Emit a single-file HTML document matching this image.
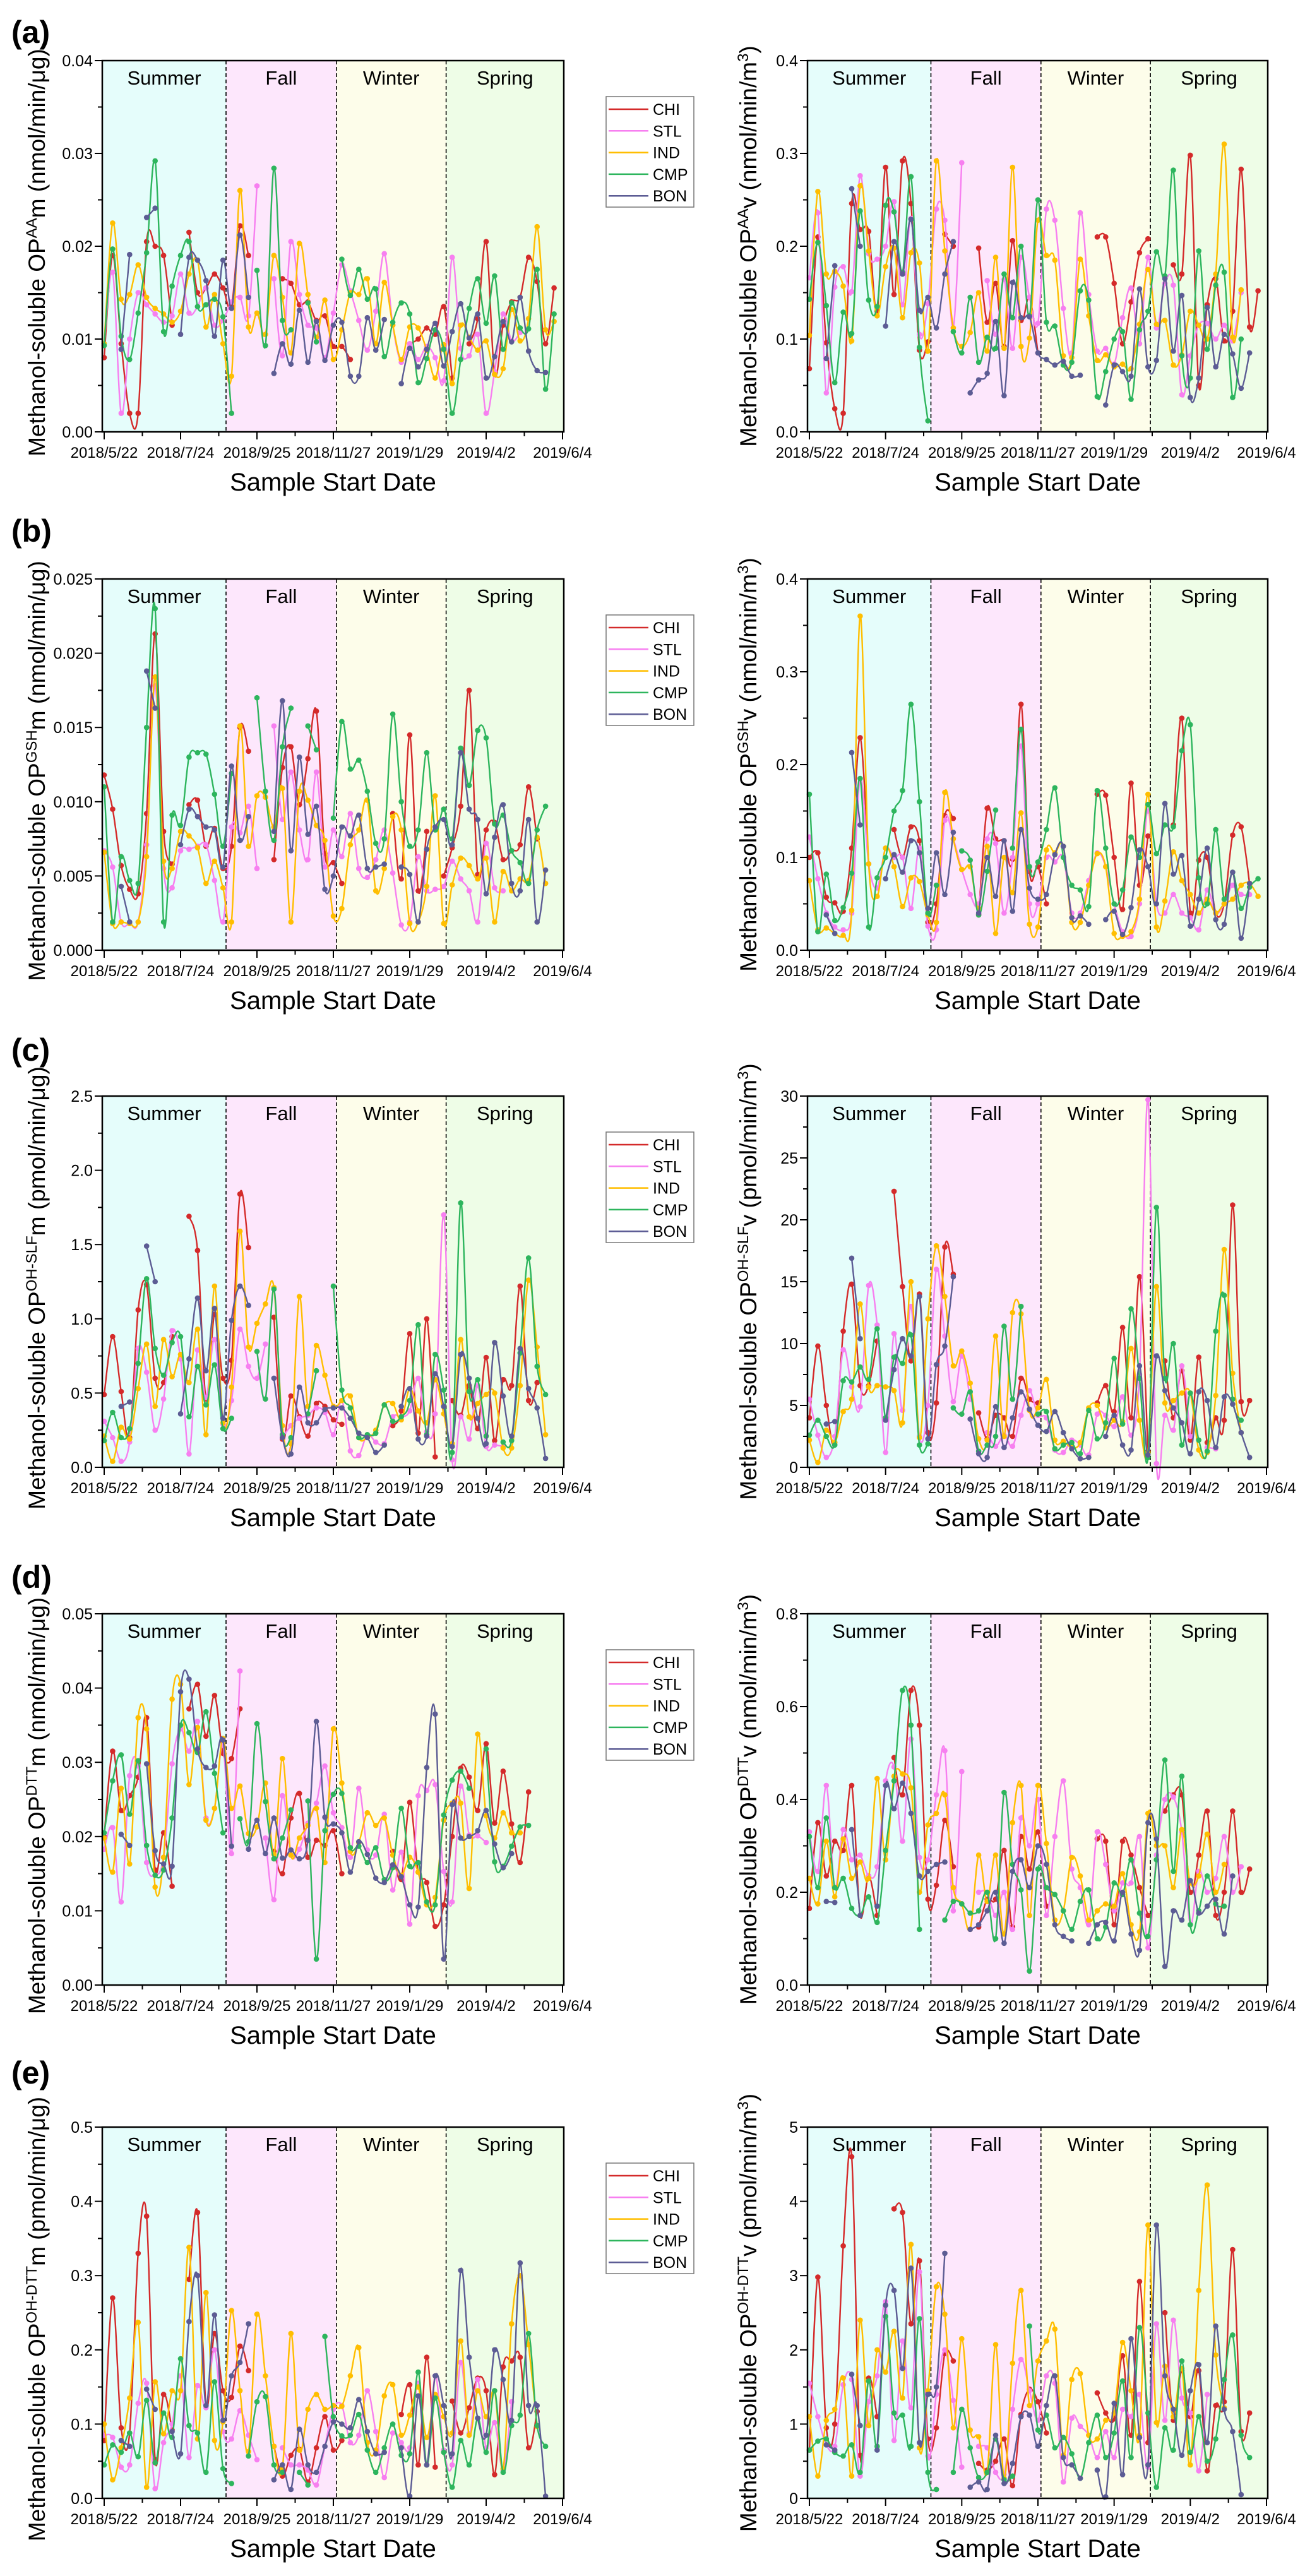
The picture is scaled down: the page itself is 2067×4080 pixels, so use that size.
<!DOCTYPE html>
<html><head><meta charset="utf-8">
<style>
html,body{margin:0;padding:0;background:#fff;}
svg{display:block;font-family:"Liberation Sans",sans-serif;}
</style></head>
<body>
<svg id="fig" width="2067" height="4080" viewBox="0 0 2067 4080" xmlns="http://www.w3.org/2000/svg"></svg>
<script>
// ---------- data ----------
const sites = ["CHI","STL","IND","CMP","BON"];
const tickLabels = ["2018/5/22","2018/7/24","2018/9/25","2018/11/27","2019/1/29","2019/4/2","2019/6/4"];
const tickDays = [0,63,126,189,252,315,378];
const seasonNames = ["Summer","Fall","Winter","Spring"];
const seasonBounds = [0,100.5,191.5,282,378];
const sampleStepDays = 7;
const n = null;

const aL_CHI=[.008,.019,.0095,.002,.002,.0205,.020,.019,.0115,n,.0215,.015,.0155,.017,.0155,.0135,.0222,.019,n,n,n,.0165,.016,.0137,.014,.012,.0125,.0092,.0092,.0078,n,n,n,n,n,n,.0095,.0100,.0112,.0105,.0135,.0058,n,.0095,.0122,.0205,.0062,.0115,.0140,.0145,.0188,.0162,.0095,.0155];
const aL_STL=[.0095,.0172,.002,.010,.015,.0137,.0127,.0118,.0125,.017,.0128,.0135,.0155,.0115,.012,.014,.0145,.0125,.0265,n,.0165,.0082,.0205,.0148,.0115,.0112,.008,.0128,.018,.0152,.012,.0088,.013,.0192,.0115,.0075,.0095,.0078,.0092,.008,.0055,.0188,.0090,.0082,.0105,.002,.0065,.0127,.0098,.0107,n,n,n,n];
const aL_IND=[.0095,.0225,.0143,.0148,.018,.0145,.0133,.0127,.0118,.013,.017,.0185,.0113,.0148,.0095,.006,.026,.0113,.0128,.0105,.019,.0145,.0085,.0203,.0148,.0102,.0142,.0078,.011,.015,.0148,.0165,.0095,.0161,.0115,.0078,.0113,.0112,.0088,.0058,.0094,.0052,.0115,.0102,.0088,.0098,.0062,.0068,.0132,.0098,.0122,.0221,.011,.0119];
const aL_CMP=[.0093,.0197,.0103,.0078,.0128,.0193,.0292,.0108,.0157,.019,.0205,.0135,.0137,.0143,.0124,.002,n,n,.0174,.0093,.0284,.0120,.011,n,.0139,.0097,n,n,.0186,.0147,.0175,.0143,.0154,.0081,.0118,.0139,.0127,.0053,.0079,.011,.0089,.002,.0078,.0133,.0165,.0117,.0168,.0089,.0139,.0112,.0111,.0175,.0046,.0127];
const aL_BON=[n,n,.0089,.0191,n,.0231,.0241,n,n,.0105,.0188,.0185,.0163,.0103,.0185,.0133,.0212,.0145,n,n,.0063,.0095,.0073,.0131,.0075,.0119,.0077,.0115,.0118,.006,.006,.0123,.0088,.0121,n,.0052,.009,.007,.0089,.0117,.0071,.0108,.0138,.0101,.0127,.0058,.0081,.0119,.0097,.0145,.0087,.0066,.0064,n];

const aR_CHI=[.068,.21,.096,.025,.02,.246,.218,.216,.13,.285,.148,.292,.246,.088,.097,n,.213,.20,n,n,.198,.118,.16,.092,.206,.12,.145,.085,n,n,n,n,n,n,.21,.21,.16,.095,.14,.193,.208,n,n,.18,.17,.298,.05,.137,.165,.098,.13,.283,.113,.152];
const aR_STL=[.166,.236,.042,.156,.178,.151,.276,.192,.186,.2,.248,.137,.23,.105,.138,.24,.228,.112,.29,n,n,.163,.105,.164,.09,.188,.145,.117,.24,.228,.133,.085,.236,.148,.087,.09,.073,.123,.155,.095,.188,.112,.16,.158,.04,.082,.115,.117,.1,.115,.098,.15,n,n];
const aR_IND=[.104,.259,.17,.173,.157,.098,.265,.195,.125,.178,.198,.123,.193,.182,.087,.292,.195,.112,.092,.107,.15,.087,.188,.09,.285,.092,.101,.228,.19,.185,.082,.08,.186,.125,.077,.083,.07,.073,.068,.116,.175,.116,.12,.072,.083,.13,.115,.1,.17,.31,.102,.153,n,n];
const aR_CMP=[.143,.204,.136,.053,.129,.106,.238,.142,.135,.244,.237,.172,.275,.091,.012,n,n,.108,.085,.145,.075,.102,.09,.17,.123,.2,.125,.25,.118,.114,.072,.075,.152,.142,.038,.065,.1,.108,.035,.11,.13,.194,.168,.282,.082,.058,.195,.089,.158,.172,.037,.1,n,n];
const aR_BON=[n,n,.079,.179,n,.262,.2,n,n,.114,.205,.17,.229,.131,.145,.112,.17,.205,n,.042,.056,.063,.119,.039,.161,.123,.124,.085,.078,.072,.076,.06,.061,n,n,.029,.072,.065,.06,.154,.07,.077,.165,.087,.147,.037,.058,.134,.07,.105,.084,.047,.085,n];

const bL_CHI=[.0118,.0095,.0057,.0041,.0038,.0092,.0213,.008,.0058,n,.0098,.0101,.007,.0082,.0055,.007,.015,.0134,n,n,.0061,.0123,.0137,.0098,.0129,.0161,.0065,.0059,.0045,n,n,n,n,n,.0092,.0048,.0145,.0040,.0080,n,.005,.0069,.0097,.0175,.0051,.0081,.0086,.0061,.0067,.0071,.011,.0075,n,n];
const bL_STL=[.0067,.0056,.0019,.0018,.0019,.0071,.0178,.0055,.0042,.0067,.0068,.007,.0071,.0047,.0019,.0083,.0079,.0097,.0055,n,.0151,.0088,.012,.0081,.0061,.0120,.0056,.0081,.0063,.0092,.0055,.0049,.0061,.0081,.0052,.0017,.0019,.0063,.004,.0041,.0043,.006,.0048,.0040,.0019,.0072,.0042,.0040,n,n,n,n,n,n];
const bL_IND=[.0066,.0018,.0019,.0018,.0019,.0063,.0184,.006,.0055,.008,.0077,.0069,.0045,.006,.0042,.0019,.0151,.007,.0104,.0103,.0083,.0109,.0019,.0107,.0101,.0084,.0074,.0023,.0028,.0071,.0081,.0101,.004,.0055,.009,.0081,.0018,.0019,.0043,.0104,.0018,.0044,.0062,.0057,.0048,.0062,.0019,.0053,.004,.0048,.0047,.0076,.0045,n];
const bL_CMP=[.011,.0019,.0063,.0047,.0045,.015,.023,.0019,.0091,.0084,.013,.0133,.0132,.0105,.007,.0119,n,n,.017,.0107,.0074,.0137,.0163,n,.0151,.0135,n,.0089,.0154,.0122,.0128,.0107,.0072,.0075,.0159,.01,.007,.0081,.0133,.0081,.0095,.0075,.0136,.0111,.0148,.0143,.0085,.0091,.0067,.0059,.0045,.0081,.0097,n];
const bL_BON=[n,n,.0043,.0019,n,.0188,.0163,n,n,.0071,.0095,.009,.0083,.0081,.0056,.0124,.0074,.009,n,n,.008,.0168,.0067,.0130,.0078,.0097,.0041,.005,.0083,.0077,.0091,.0055,.0056,.0058,n,.0056,.0051,.0019,.0068,.0083,.0088,.0071,.0133,.0095,.0088,.0038,.0076,.0098,.0045,.004,.0088,.0019,.0054,n];

const bR_CHI=[.1,.105,.057,.051,.042,.11,.229,.093,n,n,.13,.1,.133,.118,.03,.05,.145,.142,n,n,.038,.153,.12,.118,.098,.265,.085,.09,.05,n,n,n,n,n,.168,.167,.1,.044,.18,.07,.123,n,n,.135,.25,.04,.097,.1,.04,.05,.124,.133,.072,n];
const bR_STL=[.122,.077,.04,.025,.022,.04,.185,.093,.067,.11,.1,.1,.045,.11,.026,.022,.14,.12,.087,.06,.05,.12,.115,.04,.1,.22,.05,.05,.1,.095,.1,.04,.04,.075,.105,.09,.05,.02,.015,.05,.15,.05,.04,.06,.04,.035,.022,.065,.04,.05,.07,.06,.06,n];
const bR_IND=[.075,.022,.024,.018,.016,.043,.36,.093,.058,.11,.09,.047,.078,.074,.038,.03,.17,.12,.087,.09,.045,.112,.018,.10,.062,.148,.028,.025,.108,.105,.112,.03,.03,.07,.104,.09,.018,.015,.02,.055,.168,.025,.053,.106,.075,.06,.04,.055,.04,.05,.055,.07,.072,.058];
const bR_CMP=[.168,.02,.082,.032,.046,.083,.185,.025,.078,.1,.15,.172,.265,.16,.04,.07,n,n,.107,.097,.038,.085,.151,n,.11,.238,.09,.095,.13,.175,.1,.07,.065,.047,.172,.11,.05,.065,.122,.1,.157,.104,.135,.133,.215,.243,.078,.05,.13,.055,.084,.045,.068,.077];
const bR_BON=[n,n,.038,.018,n,.213,.135,n,n,.077,.103,.084,.118,.105,.045,.105,.06,.127,n,n,.04,.1,.058,.118,.042,.13,.067,.055,.06,.103,.112,.035,.037,.028,n,.033,.042,.017,.046,.108,.09,.05,.158,.082,.102,.026,.055,.11,.033,.028,.084,.013,.072,n];

const cL_CHI=[.49,.88,.51,.2,1.06,1.23,.6,.57,.88,n,1.69,1.46,.46,1.03,.6,.72,1.84,1.48,n,n,1.01,.19,.48,.34,.21,.43,.41,.32,.29,n,n,n,n,n,.28,.38,.9,.23,1.0,.07,n,.45,.35,.55,.26,.74,.18,.59,.55,1.22,.45,.57,n,n];
const cL_STL=[.31,.2,.04,.17,.8,.64,.25,.46,.92,.73,.09,.79,.47,.86,.29,.45,.93,.68,.6,.83,n,.2,.28,.33,.35,.4,.37,.22,.45,.11,.08,.22,.17,.16,.34,.34,.38,.6,.24,.36,1.7,.05,.34,.19,.55,.14,.15,.14,n,n,n,n,n,n];
const cL_IND=[.21,.04,.27,.19,.53,.83,.41,.86,.61,.76,.57,.93,.22,1.22,.3,.54,1.59,.81,.97,1.1,1.21,.28,.16,1.15,.41,.82,.62,.41,.45,.48,.2,.2,.25,.42,.43,.32,.53,.38,.3,.59,.36,.16,.86,.34,.43,.49,.5,.13,.13,.55,1.26,.81,.22,n];
const cL_CMP=[.18,.37,.2,.26,.7,1.27,.8,.62,.84,.88,.34,.68,.42,.69,.26,.33,n,n,.78,.46,1.2,.22,.2,n,.36,.65,n,1.22,.52,.4,.2,.22,.23,.42,.31,.34,.45,.96,.22,.76,.52,.1,1.78,.51,.59,.21,n,.17,.18,.77,1.41,.68,.49,n];
const cL_BON=[n,n,.41,.44,n,1.49,1.25,n,n,.36,.73,1.14,.65,1.07,.33,.99,1.22,1.09,n,n,.6,.2,.09,.54,.3,.3,.39,.4,.4,.33,.23,.2,.1,.15,n,.41,.53,.19,.21,.63,.41,.14,.76,.6,.33,.16,.84,.48,.21,.8,.53,.4,.06,n];

const cR_CHI=[4,9.8,5,2,11,14.8,6.6,6.6,10.2,n,22.3,14.6,8.6,14,2.8,5.2,17.8,15.6,n,n,4.4,2.3,4.2,4,2.5,7.2,5.5,5.2,n,n,n,n,n,n,5.2,6.6,4.5,11.3,4,15.4,1.3,n,8.6,4,7.8,2.2,8.9,2,4,3.8,21.2,5.3,5.4,n];
const cR_STL=[5.5,2.6,.8,2.5,9.5,6.5,4.9,14.7,11.5,1.2,10.8,4.6,13,2.5,5,16,10.6,5.3,9,5.5,n,2.8,1.7,2.6,1.7,4.2,6.2,4.2,4,1.4,1.2,2.2,1.8,1,4.3,4.2,3.3,5.7,2.6,7.5,29.7,.3,4.2,3,8.2,2.5,n,1.6,1.5,n,n,n,n,n];
const cR_IND=[2.2,.4,3,2,4.5,5.5,13.2,6.5,6.6,6.5,6.2,3.6,15,2.4,12,17.9,13.8,8.2,9.4,6.8,2.3,2.2,10.6,2.5,12.5,12.4,4.6,4.8,7.1,2.2,2.1,1.6,2,4.8,5,3.2,3.8,3.7,9.6,3.8,1.2,14.6,5.2,5.4,6,6,1.4,1.2,5.8,17.6,7.6,2.8,n,n];
const cR_CMP=[2.6,3.8,2.5,1.8,7,6.9,8.1,7.1,11.2,4,8.9,8.4,10.7,1.8,1.9,n,n,4.8,4.3,6.1,1.3,1.8,2.5,11.4,5.5,13,n,4.3,4.5,1.5,1.8,2,1.1,4.6,2.3,3.6,8.8,3.5,12.8,7.2,.8,21,7.2,10,1.8,6,2.2,1.3,11,13.9,5.5,3.8,n,n];
const cR_BON=[n,n,3.5,3.7,n,16.9,10.4,n,n,3.8,7.9,10.4,9,13.8,2.3,8.3,9.8,15.4,n,3.9,1.1,.8,4.9,1.6,4,6.1,4.7,3.4,2.9,4.5,2.8,1.5,.7,.8,n,2.5,4.2,1.8,1.4,8.2,1,9,6.2,4.8,3.6,1.1,6.1,5.4,1.6,5.7,5.1,2.8,.8,n];

const dL_CHI=[.02,.0315,.0235,.0255,.028,.036,.0155,.0205,.0133,n,.0372,.0405,.0335,.039,.0312,.0305,.0372,n,n,n,.018,.015,.0225,.0258,.0172,.0195,.0188,.0208,.015,n,n,n,n,n,.018,.0142,.0246,.0152,.0138,.0079,.0108,.02,.0292,.028,.0235,.0325,.0218,.0288,.0217,.0165,.026,n,n,n];
const dL_STL=[.0183,.0212,.0112,.0282,.0295,.0165,.0148,.0172,.0298,.0345,.0315,.0355,.0225,.0238,.0323,.0177,.0423,n,n,.0198,.0115,.0255,.0175,.0183,.0218,.0245,.0295,.0232,.0212,.0172,.0265,.0182,.0175,.023,.0128,.0179,.0082,.0255,.0262,.027,.0153,.0112,.0268,.0202,.0201,.0192,n,n,n,n,n,n,n,n];
const dL_IND=[.0198,.0152,.0265,.0163,.036,.0345,.0132,.0172,.0385,.0405,.027,.0347,.0222,.0238,.0332,.0238,.0268,.0204,.0213,.0272,.0176,.0305,.0175,.0198,.0215,.0238,.0165,.0345,.0272,.018,.0192,.0232,.0215,.0225,.0175,.0148,.0172,.0152,.0108,.0118,.0222,.0245,.0245,.013,.0338,.0228,.0198,.0232,.0205,.0205,n,n,n,n];
const dL_CMP=[.0205,.0275,.031,.023,.0302,.0188,.0148,.0155,.0225,.035,.034,.0313,.0368,.0285,.0205,n,.0224,.0193,.0352,.0247,.017,.0198,.0236,n,.0248,.0035,.0208,.0257,.0258,.0185,.0187,.0165,.0185,.0142,.0158,.0238,.016,.0165,.0112,.0108,.0229,.0276,.0288,.0265,n,.0318,.0166,.016,.0187,.0213,.0215,n,n,n];
const dL_BON=[n,n,.0203,.0188,n,.0298,.0181,.0163,.016,.0395,.0412,.0318,.0293,.0295,.033,.0187,n,.0183,.0222,.0177,.0225,.0171,.0182,.017,.0195,.0355,.0226,.0217,.0205,.0152,.0193,.0176,.0144,.0138,.0162,.0146,.0108,.0105,.0293,.0365,.0035,.0243,.0198,.02,.0208,.0235,.019,.0158,.0177,n,n,n,n,n];

const dR_CHI=[.165,.35,.235,.31,.29,.43,.15,.235,.15,n,.49,.41,.635,.56,.185,.215,.355,.255,n,n,.125,.185,.185,.29,.125,.32,.25,.33,.17,n,n,n,n,n,.315,.31,.13,.31,.28,.21,.15,n,.375,.41,.41,.2,.28,.375,.15,.2,.375,.2,.25,n];
const dR_STL=[.33,.245,.43,.21,.335,.27,.28,.235,.255,.44,.47,.31,.53,.275,.27,.41,.505,.16,.46,n,.2,.2,.15,.2,.12,.36,.3,.4,.15,.32,.44,.25,.21,.13,.33,.26,.16,.22,.22,.32,.08,.28,.4,.405,.33,.13,.245,.2,.23,.32,.2,.255,n,n];
const dR_IND=[.23,.175,.31,.19,.315,.23,.265,.23,.445,.27,.45,.455,.425,.2,.345,.37,.41,.21,.175,.12,.28,.18,.28,.11,.35,.43,.15,.43,.305,.14,.16,.275,.235,.14,.16,.175,.17,.24,.13,.115,.37,.3,.3,.21,.335,.22,.235,.325,.2,.26,n,n,n,n];
const dR_CMP=[.32,.21,.36,.21,.23,.165,.15,.19,.135,.29,.44,.635,.56,.12,n,n,.14,.18,.175,.155,.16,.2,.1,.415,.26,.205,.03,.25,.21,.195,.16,.12,.18,.205,.1,.125,.22,.195,.27,.155,.105,.27,.485,.245,.45,.13,.16,.235,.175,.17,n,n,n,n];
const dR_BON=[n,n,.18,.178,n,.335,.15,n,.17,.43,.38,.435,.37,.235,.245,.26,.265,n,n,.12,.13,.16,.2,.09,.245,.27,.21,.3,.26,.13,.105,.095,n,.09,.13,.135,.095,.2,.11,.075,.35,.315,.04,.16,.14,.225,.155,.17,.185,.11,.235,n,n,n];

const eL_CHI=[.078,.27,.095,.088,.33,.38,.052,.14,.092,n,.295,.385,.125,.222,.145,.136,.205,.172,n,n,.07,.03,.058,.066,.022,.068,.11,.065,.078,n,n,n,n,n,n,.113,.153,.045,.19,.042,n,.131,.088,.122,.162,.145,.032,.177,.185,.19,.068,.117,n,n];
const eL_STL=[.085,.082,.042,.045,.128,.155,.013,.075,.1,.165,.055,.152,.122,.2,.09,.08,.118,.085,.052,n,n,.068,.045,.045,.038,.018,.07,.12,.125,.075,.085,.145,.09,.028,.088,.075,.068,.155,.045,.165,.065,.045,.183,.087,.16,.068,.102,.038,.13,n,n,n,n,n];
const eL_IND=[.1,.025,.068,.135,.237,.015,.157,.087,.145,.145,.338,.08,.277,.078,.103,.253,.145,.063,.248,.165,.07,.04,.222,.065,.12,.14,.12,.125,.124,.165,.203,.075,.065,.138,.153,.085,.112,.15,.082,.14,.11,.088,.212,.085,.145,.11,.145,.04,.235,.3,.207,.097,n,n];
const eL_CMP=[.045,.072,.062,.088,.056,.132,.048,.115,.082,.188,.098,.088,.035,.157,.04,.02,n,.057,.13,.137,.045,.035,n,.035,.018,n,.218,.11,.084,.085,.113,.065,.035,.068,.1,.058,.06,.17,.045,.135,.062,.015,.078,.045,.108,.062,.145,.035,.098,.112,.222,.098,.07,n];
const eL_BON=[n,n,.078,.07,n,.147,.12,n,.09,.06,.238,.3,.125,.247,.105,.165,.183,.235,n,n,.025,.045,.012,.093,.045,.035,.07,.103,.1,.095,.133,.09,.06,.062,n,.068,.003,.138,.045,.165,.125,.06,.307,.19,.108,.085,.2,.16,.105,.317,.125,.125,.003,n];

const eR_CHI=[.65,2.98,.95,1,3.4,4.6,.58,1.62,1.1,n,3.9,3.85,2.35,3.2,.8,.95,1.95,1.85,n,n,.47,.38,.5,.8,.17,1.13,1.47,1.3,.88,n,n,n,n,n,1.42,1.15,1.07,1.92,.85,2.92,.75,n,2.5,1.05,1.72,1.1,1.72,.37,1.25,1.3,3.35,.9,1.15,n];
const eR_STL=[1.55,1.1,.72,.7,1.53,1.6,.3,1.3,1.65,2.65,.78,2.12,1.22,3.05,.57,1.4,2,1.32,.42,n,.7,.68,.35,.32,1.2,1.87,1.45,1.05,1.65,1.55,.22,1.08,.97,.85,.55,.9,.55,1.2,1.1,1.4,.42,2.35,1.05,2.4,1.35,1.15,.37,1.4,n,n,n,n,n,n];
const eR_IND=[1.1,.3,1.05,1.2,1.62,.3,2.4,.98,2,1.7,2.25,1.35,3.42,.68,1.45,2.85,2.48,.95,2.15,.92,.83,.35,2.07,.27,1.82,2.8,1.25,1.85,2.12,2.28,.58,1.6,1.68,.85,.8,1.05,1.15,2.1,1.45,.85,3.68,1.02,1.78,1.1,1.75,.45,2.8,4.22,1.93,1.22,n,n,n,n];
const eR_CMP=[.65,.77,.8,.62,.57,.72,.35,1.58,.7,2.45,1.15,1.12,.7,2.42,.35,.12,n,.35,1.2,.68,.28,.35,.8,.25,.3,n,2.32,.92,1.12,.68,.82,.6,.27,.75,1.12,.55,.88,1.58,.55,2.3,1.15,.15,.95,.65,1.85,.62,1.1,.5,.8,1.6,2.2,.85,.55,n];
const eR_BON=[n,n,.72,.65,n,1.67,.98,n,.65,2.6,2.8,1.75,3.1,.75,1.4,1.5,3.3,n,n,.15,.22,.12,.85,.2,.47,1.1,1.12,.7,1.25,1.65,.55,.45,.27,n,.38,.02,1.28,.32,2.15,.82,.45,3.68,1.65,1.2,.58,1.45,1.8,.75,2.32,1.2,.9,.05,n,n];

const yMaxL = [0.04,0.025,2.5,0.05,0.5];
const yStepL = [0.01,0.005,0.5,0.01,0.1];
const yDecL = [2,3,1,2,1];
const yMaxR = [0.4,0.4,30,0.8,5];
const yStepR = [0.1,0.1,5,0.2,1];
const yDecR = [1,1,0,1,0];

// ---------- layout ----------
const NS="http://www.w3.org/2000/svg";
const svg=document.getElementById('fig');
const colors=["#d42a2a","#f77ff0","#ffbe00","#2db55d","#5c5c94"];
const seasonFill=["#e5fdfb","#fde7fc","#fdfdea","#eefde7"];
const tops=[96,917,1736,2556,3369];
const PH=588;
const labelY=[68,858,1680,2515,3300];
const panelLetters=["(a)","(b)","(c)","(d)","(e)"];
const leftSeries=[[aL_CHI,aL_STL,aL_IND,aL_CMP,aL_BON],[bL_CHI,bL_STL,bL_IND,bL_CMP,bL_BON],[cL_CHI,cL_STL,cL_IND,cL_CMP,cL_BON],[dL_CHI,dL_STL,dL_IND,dL_CMP,dL_BON],[eL_CHI,eL_STL,eL_IND,eL_CMP,eL_BON]];
const rightSeries=[[aR_CHI,aR_STL,aR_IND,aR_CMP,aR_BON],[bR_CHI,bR_STL,bR_IND,bR_CMP,bR_BON],[cR_CHI,cR_STL,cR_IND,cR_CMP,cR_BON],[dR_CHI,dR_STL,dR_IND,dR_CMP,dR_BON],[eR_CHI,eR_STL,eR_IND,eR_CMP,eR_BON]];
const titlesL=[["nmol/min/μg","AA"],["nmol/min/μg","GSH"],["pmol/min/μg","OH-SLF"],["nmol/min/μg","DTT"],["pmol/min/μg","OH-DTT"]];
const titlesR=[["nmol/min/m","AA"],["nmol/min/m","GSH"],["pmol/min/m","OH-SLF"],["nmol/min/m","DTT"],["pmol/min/m","OH-DTT"]];

function el(tag,attrs,parent){const e=document.createElementNS(NS,tag);for(const k in attrs)e.setAttribute(k,attrs[k]);(parent||svg).appendChild(e);return e;}

function smoothPath(pts){
  if(pts.length===1) return "";
  let d="M"+pts[0][0].toFixed(1)+","+pts[0][1].toFixed(1);
  for(let i=0;i<pts.length-1;i++){
    const p0=pts[i-1]||pts[i],p1=pts[i],p2=pts[i+1],p3=pts[i+2]||p2;
    const c1x=p1[0]+(p2[0]-p0[0])/6,c1y=p1[1]+(p2[1]-p0[1])/6;
    const c2x=p2[0]-(p3[0]-p1[0])/6,c2y=p2[1]-(p3[1]-p1[1])/6;
    d+=" C"+c1x.toFixed(1)+","+c1y.toFixed(1)+" "+c2x.toFixed(1)+","+c2y.toFixed(1)+" "+p2[0].toFixed(1)+","+p2[1].toFixed(1);
  }
  return d;
}

function drawPanel(k,side){
  const isL=side==="L";
  const x0=isL?162:1279, x1=isL?893:2008;
  const top=tops[k], bot=top+PH;
  const ymax=isL?yMaxL[k]:yMaxR[k], ystep=isL?yStepL[k]:yStepR[k], dec=isL?yDecL[k]:yDecR[k];
  const dx0=x0+3, dx1=x1-2;
  const xs=d=>dx0+d*(dx1-dx0)/378;
  const ys=v=>bot-v/ymax*PH;
  const g=el('g',{});
  
  
  for(let s=0;s<4;s++){
    const a=s===0?x0:xs(seasonBounds[s]), b=s===3?x1:xs(seasonBounds[s+1]);
    const r=el('rect',{x:a,y:top,width:b-a,height:PH,fill:seasonFill[s]},g);
    
    
    const t=el('text',{x:(a+b)/2,y:top+38,'font-size':31,'text-anchor':'middle',fill:'#000'},g);
    t.textContent=seasonNames[s];
    
    
    if(s>0){
      const ln=el('line',{x1:a,x2:a,y1:top,y2:bot,stroke:'#000','stroke-width':1.6,'stroke-dasharray':'6,4'},g);
      
      
    }
  }
  const series=isL?leftSeries[k]:rightSeries[k];
  series.forEach((arr,si)=>{
    const sg=el('g',{},g);
    
    
    let seg=[];const segs=[];
    arr.forEach((v,i)=>{
      if(v===null){if(seg.length)segs.push(seg);seg=[];return;}
      seg.push([xs(i*sampleStepDays),ys(v)]);
    });
    if(seg.length)segs.push(seg);
    segs.forEach(sp=>{
      const d=smoothPath(sp);
      if(d){const p=el('path',{d:d,fill:'none',stroke:colors[si],'stroke-width':2.4},sg);
        
        }
      sp.forEach(pt=>{
        const c=el('circle',{cx:pt[0].toFixed(1),cy:pt[1].toFixed(1),r:4.3,fill:colors[si]},sg);
        
        
      });
    });
  });
  const fr=el('rect',{x:x0,y:top,width:x1-x0,height:PH,fill:'none',stroke:'#000','stroke-width':2.5},g);
  
  
  const nt=Math.round(ymax/ystep);
  for(let i=0;i<=nt*2;i++){
    const v=i*ystep/2, y=ys(v), major=i%2===0;
    el('line',{x1:x0-(major?12:7),x2:x0,y1:y,y2:y,stroke:'#000','stroke-width':2},g);
    if(major){
      const t=el('text',{x:x0-15,y:y+9,'font-size':25,'text-anchor':'end'},g);
      t.textContent=v.toFixed(dec);
      
      
    }
  }
  for(let i=0;i<tickDays.length;i++){
    const x=xs(tickDays[i]);
    el('line',{x1:x,x2:x,y1:bot,y2:bot+12,stroke:'#000','stroke-width':2},g);
    if(i<tickDays.length-1){const xm=xs((tickDays[i]+tickDays[i+1])/2);el('line',{x1:xm,x2:xm,y1:bot,y2:bot+7,stroke:'#000','stroke-width':2},g);}
    const t=el('text',{x:x,y:bot+41,'font-size':24,'text-anchor':'middle'},g);
    t.textContent=tickLabels[i];
    
    
  }
  const xt=el('text',{x:(x0+x1)/2,y:bot+93,'font-size':40,'text-anchor':'middle'},g);
  xt.textContent="Sample Start Date";
  
  
  const tt=isL?titlesL[k]:titlesR[k];
  const cx=isL?58:1185, cy=top+PH/2+(isL?10:0);
  const yt=el('text',{x:0,y:0,'font-size':37,'text-anchor':'middle',transform:`translate(${cx+13},${cy}) rotate(-90)`},g);
  
  
  const parts=[["Methanol-soluble OP",0,37],[tt[1],-13,24],[isL?"m":"v",13,37],[" ("+tt[0],0,37]];
  parts.forEach(p=>{const s=el('tspan',{dy:p[1],'font-size':p[2]},yt);s.textContent=p[0];});
  if(!isL){const s=el('tspan',{dy:-13,'font-size':24},yt);s.textContent="3";}
  const cl=el('tspan',{dy:isL?0:13,'font-size':37},yt);cl.textContent=")";
  if(isL){
    const lg=el('g',{},g);
    
    
    el('rect',{x:960,y:top+57,width:139,height:175,fill:'#fff',stroke:'#777','stroke-width':1.5},lg);
    sites.forEach((s,i)=>{
      const y=top+77+i*34.3;
      el('line',{x1:964,x2:1027,y1:y,y2:y,stroke:colors[i],'stroke-width':2.5},lg);
      const t=el('text',{x:1034,y:y+9,'font-size':25},lg);
      t.textContent=s;
      
      
    });
  }
}

for(let k=0;k<5;k++){
  drawPanel(k,"L");drawPanel(k,"R");
  const t=el('text',{x:18,y:labelY[k],'font-size':50,'font-weight':'bold'});
  t.textContent=panelLetters[k];
  
  
}
</script>
</body></html>
